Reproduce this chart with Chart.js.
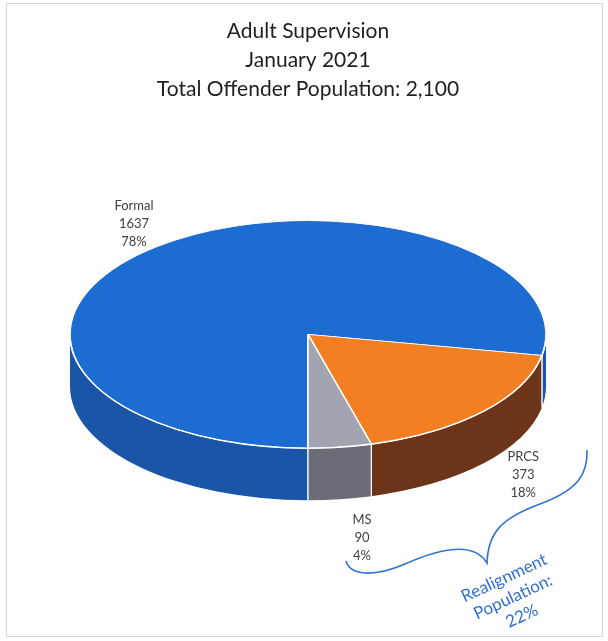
<!DOCTYPE html>
<html>
<head>
<meta charset="utf-8">
<script src="https://cdn.jsdelivr.net/npm/chart.js@4/dist/chart.umd.min.js"></script>
<style>
  html, body { margin: 0; padding: 0; background: #fff; }
  #wrap { width: 608px; height: 641px; }
</style>
</head>
<body>
<div id="wrap"><canvas id="pie-chart" width="608" height="641"></canvas></div>
<script>
// data
const categories = ["Formal", "PRCS", "MS"];
const counts = [1637, 373, 90];
const titleLines = ["Adult Supervision", "January 2021", "Total Offender Population: 2,100"];
const noteLines = ["Realignment", "Population:", "22%"];

// look
const topColors = ["#1d6cd2", "#f37f22", "#a3a4b2"];
const sideColors = ["#1a55a8", "#6c3419", "#6b6c78"];
const labelOffsets = [[-22, -23], [40, 11], [22, 39]];
const TILT = 0.478;
const DEPTH = 52;

const total = counts.reduce((a, b) => a + b, 0);

// fake 3d: squash the pie and draw a wall under the front half
const pie3d = {
  id: "pie3d",
  beforeDraw(chart) {
    const ctx = chart.ctx;
    ctx.save();
    ctx.strokeStyle = "#d6d6d6";
    ctx.lineWidth = 1;
    ctx.strokeRect(6.5, 3.5, 596, 633);
    ctx.restore();
  },
  beforeDatasetDraw(chart, args) {
    const ctx = chart.ctx;
    const arcs = args.meta.data;
    const cx = arcs[0].x, cy = arcs[0].y;
    ctx.save();
    arcs.forEach((arc, i) => {
      const r = arc.outerRadius;
      for (let k = -1; k <= 2; k++) {
        const s = Math.max(arc.startAngle, k * 2 * Math.PI);
        const e = Math.min(arc.endAngle, k * 2 * Math.PI + Math.PI);
        if (e <= s) continue;
        ctx.beginPath();
        ctx.ellipse(cx, cy, r, r * TILT, 0, s, e);
        ctx.ellipse(cx, cy + DEPTH, r, r * TILT, 0, e, s, true);
        ctx.closePath();
        ctx.fillStyle = sideColors[i];
        ctx.fill();
        ctx.strokeStyle = "#ffffff";
        ctx.lineWidth = 1.2;
        [s, e].forEach(a => {
          if (a !== arc.startAngle && a !== arc.endAngle) return;
          const px = cx + Math.cos(a) * r, py = cy + Math.sin(a) * r * TILT;
          ctx.beginPath();
          ctx.moveTo(px, py);
          ctx.lineTo(px, py + DEPTH);
          ctx.stroke();
        });
      }
    });
    ctx.translate(cx, cy);
    ctx.scale(1, TILT);
    ctx.translate(-cx, -cy);
  },
  afterDatasetDraw(chart, args) {
    const ctx = chart.ctx;
    ctx.restore();
    const arc = args.meta.data[0];
    ctx.save();
    ctx.strokeStyle = "#ffffff";
    ctx.lineWidth = 1.4;
    ctx.beginPath();
    ctx.ellipse(arc.x, arc.y, arc.outerRadius, arc.outerRadius * TILT, 0, 0, Math.PI);
    ctx.stroke();
    ctx.restore();
  },
  afterDatasetsDraw(chart) {
    const ctx = chart.ctx;
    const arcs = chart.getDatasetMeta(0).data;
    ctx.save();
    ctx.font = "13px Lato";
    ctx.fillStyle = "#404040";
    ctx.textAlign = "center";
    ctx.textBaseline = "middle";
    arcs.forEach((arc, i) => {
      const mid = (arc.startAngle + arc.endAngle) / 2;
      const r = arc.outerRadius;
      const sy = Math.sin(mid);
      const ax = arc.x + Math.cos(mid) * r + labelOffsets[i][0];
      const ay = arc.y + sy * r * TILT + (sy > 0 ? DEPTH : 0) + labelOffsets[i][1];
      const lines = [categories[i], String(counts[i]), Math.round(counts[i] / total * 100) + "%"];
      lines.forEach((t, j) => ctx.fillText(t, ax, ay + (j - 1) * 18));
    });

    // hand drawn brace + note
    ctx.strokeStyle = "#3273d2";
    ctx.lineWidth = 1.6;
    ctx.beginPath();
    ctx.moveTo(346, 561);
    ctx.bezierCurveTo(350, 575, 372, 578, 405, 564);
    ctx.bezierCurveTo(432, 552, 472, 538, 487, 563);
    ctx.bezierCurveTo(488, 532, 502, 518, 540, 504);
    ctx.bezierCurveTo(578, 490, 588, 474, 587, 450);
    ctx.stroke();

    ctx.fillStyle = "#2f6fd0";
    ctx.font = "17px Lato";
    ctx.translate(513, 597);
    ctx.rotate(-25 * Math.PI / 180);
    noteLines.forEach((t, j) => ctx.fillText(t, 0, (j - 1) * 21));
    ctx.restore();
  }
};

const ctx = document.getElementById("pie-chart").getContext("2d");
new Chart(ctx, {
  type: "pie",
  data: {
    labels: categories,
    datasets: [{
      data: counts,
      backgroundColor: topColors,
      borderColor: "#ffffff",
      borderWidth: 1.6,
      clip: false
    }]
  },
  options: {
    responsive: false,
    animation: false,
    events: [],
    rotation: 180,
    radius: 238,
    layout: { padding: { left: 68, right: 60, top: 0, bottom: 86 } },
    plugins: {
      legend: { display: false },
      tooltip: { enabled: false },
      title: {
        display: true,
        text: titleLines,
        color: "#1f1f1f",
        font: { family: "Lato", size: 21, weight: "normal", lineHeight: 1.38 },
        padding: { top: 17, bottom: 10 }
      }
    }
  },
  plugins: [pie3d]
});
</script>
</body>
</html>
